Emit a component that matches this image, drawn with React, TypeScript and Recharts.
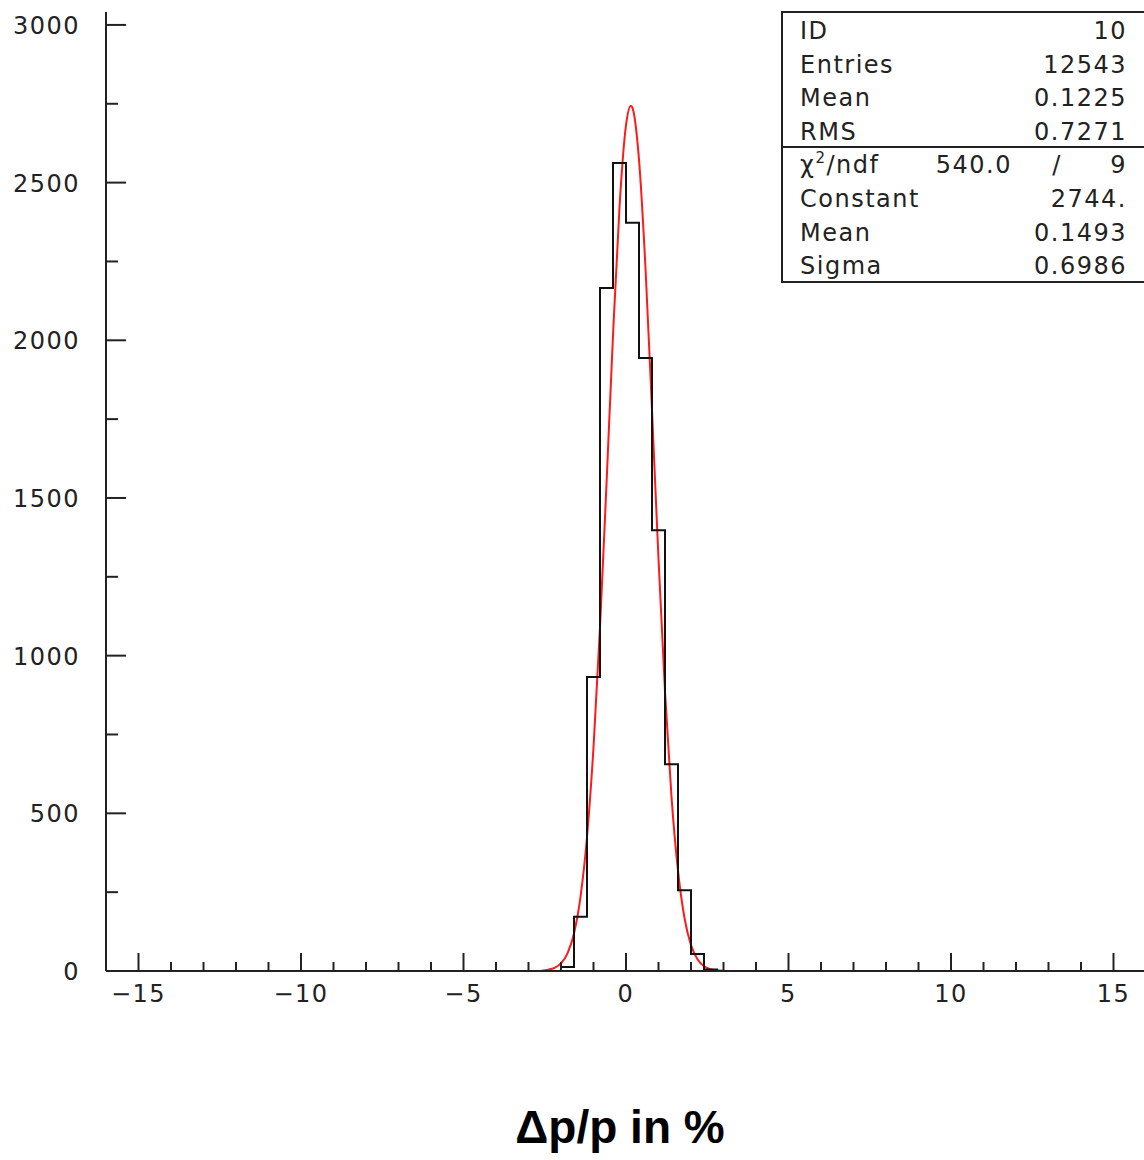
import { ComposedChart, Line, XAxis, YAxis } from 'recharts';

// histogram: lower bin edges (bin width 0.4) and counts
const binLow = [-2.0, -1.6, -1.2, -0.8, -0.4, 0.0, 0.4, 0.8, 1.2, 1.6, 2.0, 2.4];
const binCounts = [13, 172, 932, 2166, 2562, 2373, 1944, 1398, 656, 256, 54, 5];
const binWidth = 0.4;

// red gaussian fit curve
const fitX = [-2.6, -2.4, -2.2, -2.0, -1.8, -1.6, -1.4, -1.2, -1.0, -0.8, -0.6, -0.4, -0.2, 0.0, 0.15, 0.2, 0.4, 0.6, 0.8, 1.0, 1.2, 1.4, 1.6, 1.8, 2.0, 2.2, 2.4, 2.6, 2.8, 3.0];
const fitY = [1, 4, 10, 24, 56, 119, 235, 425, 709, 1090, 1544, 2015, 2422, 2682, 2744, 2737, 2573, 2229, 1778, 1307, 886, 552, 318, 168, 82, 37, 15, 6, 2, 1];

const xTicks = [-15, -14, -13, -12, -11, -10, -9, -8, -7, -6, -5, -4, -3, -2, -1, 0, 1, 2, 3, 4, 5, 6, 7, 8, 9, 10, 11, 12, 13, 14, 15];
const yTicks = [0, 250, 500, 750, 1000, 1250, 1500, 1750, 2000, 2250, 2500, 2750, 3000];

const statsTop = [
  ['ID', '10'],
  ['Entries', '12543'],
  ['Mean', '0.1225'],
  ['RMS', '0.7271'],
];
const statsFit = [
  ['Constant', '2744.'],
  ['Mean', '0.1493'],
  ['Sigma', '0.6986'],
];

const FONT = '"DejaVu Sans", sans-serif';
const INK = '#222';

const histData = [
  { x: binLow[0] - binWidth, y: 0 },
  ...binLow.map((x, i) => ({ x, y: binCounts[i] })),
  { x: binLow[binLow.length - 1] + binWidth, y: 0 },
];
const fitData = fitX.map((x, i) => ({ x, y: fitY[i] }));

const fmtMinus = (v: number) => (v < 0 ? `\u2212${Math.abs(v)}` : `${v}`);

function XTick(props: any) {
  const { x, y, payload } = props;
  const major = payload.value % 5 === 0;
  return (
    <g>
      <line x1={x} x2={x} y1={y} y2={y - (major ? 18 : 9)} stroke={INK} strokeWidth={2} />
      {major && (
        <text x={x} y={y + 31} textAnchor="middle" fontFamily={FONT} fontSize={24} letterSpacing={1.5} fill={INK}>
          {fmtMinus(payload.value)}
        </text>
      )}
    </g>
  );
}

function YTick(props: any) {
  const { x, y, payload } = props;
  const major = payload.value % 500 === 0;
  return (
    <g>
      <line x1={x} x2={x + (major ? 20 : 12)} y1={y} y2={y} stroke={INK} strokeWidth={2} />
      {major && (
        <text x={x - 26} y={y + 9} textAnchor="end" fontFamily={FONT} fontSize={24} letterSpacing={1.5} fill={INK}>
          {payload.value}
        </text>
      )}
    </g>
  );
}

export default function App() {
  const rowY = (i: number) => 39 + i * 33.6;
  return (
    <div style={{ position: 'absolute', left: 0, top: 0, width: 1144, height: 1160, overflow: 'hidden', background: '#fff' }}>
      <ComposedChart width={1150} height={1160} margin={{ top: 12, right: 4, left: 0, bottom: 129 }}>
        <XAxis
          dataKey="x"
          type="number"
          domain={[-16, 16]}
          allowDataOverflow
          ticks={xTicks}
          interval={0}
          height={60}
          tickSize={0}
          tickMargin={0}
          tickLine={false}
          axisLine={{ stroke: INK, strokeWidth: 2 }}
          tick={<XTick />}
        />
        <XAxis
          xAxisId="top"
          orientation="top"
          type="number"
          domain={[-16, 16]}
          height={0}
          tick={false}
          tickLine={false}
          axisLine={{ stroke: INK, strokeWidth: 2 }}
        />
        <YAxis
          type="number"
          domain={[0, 3041]}
          allowDataOverflow
          ticks={yTicks}
          interval={0}
          width={106}
          tickSize={0}
          tickMargin={0}
          tickLine={false}
          axisLine={{ stroke: INK, strokeWidth: 2 }}
          tick={<YTick />}
        />
        <Line
          data={fitData}
          dataKey="y"
          type="monotone"
          stroke="#ff1a1a"
          strokeWidth={2}
          dot={false}
          isAnimationActive={false}
        />
        <Line
          data={histData}
          dataKey="y"
          type="stepAfter"
          stroke="#111"
          strokeWidth={2}
          dot={false}
          isAnimationActive={false}
        />
      </ComposedChart>
      <svg width={1144} height={1160} style={{ position: 'absolute', left: 0, top: 0, pointerEvents: 'none' }}>
        <rect x={782} y={12} width={400} height={270} fill="#fff" stroke={INK} strokeWidth={2} />
        <line x1={782} x2={1150} y1={147} y2={147} stroke={INK} strokeWidth={2} />
        <g fontFamily={FONT} fontSize={24} letterSpacing={1.5} fill={INK}>
          {statsTop.map(([k, v], i) => (
            <g key={`t${i}`}>
              <text x={800} y={rowY(i)}>{k}</text>
              <text x={1127} y={rowY(i)} textAnchor="end">{v}</text>
            </g>
          ))}
          <text x={800} y={rowY(4)}>
            χ<tspan fontSize={15} dy={-10}>2</tspan>
            <tspan dy={10}>/ndf</tspan>
          </text>
          <text x={1012} y={rowY(4)} textAnchor="end">540.0</text>
          <text x={1057} y={rowY(4)} textAnchor="middle">/</text>
          <text x={1127} y={rowY(4)} textAnchor="end">9</text>
          {statsFit.map(([k, v], i) => (
            <g key={`f${i}`}>
              <text x={800} y={rowY(i + 5)}>{k}</text>
              <text x={1127} y={rowY(i + 5)} textAnchor="end">{v}</text>
            </g>
          ))}
        </g>
        <text x={620} y={1143} textAnchor="middle" fontFamily='"Liberation Sans", Arial, sans-serif' fontWeight="bold" fontSize={46} fill="#000">
          Δp/p in %
        </text>
      </svg>
    </div>
  );
}
